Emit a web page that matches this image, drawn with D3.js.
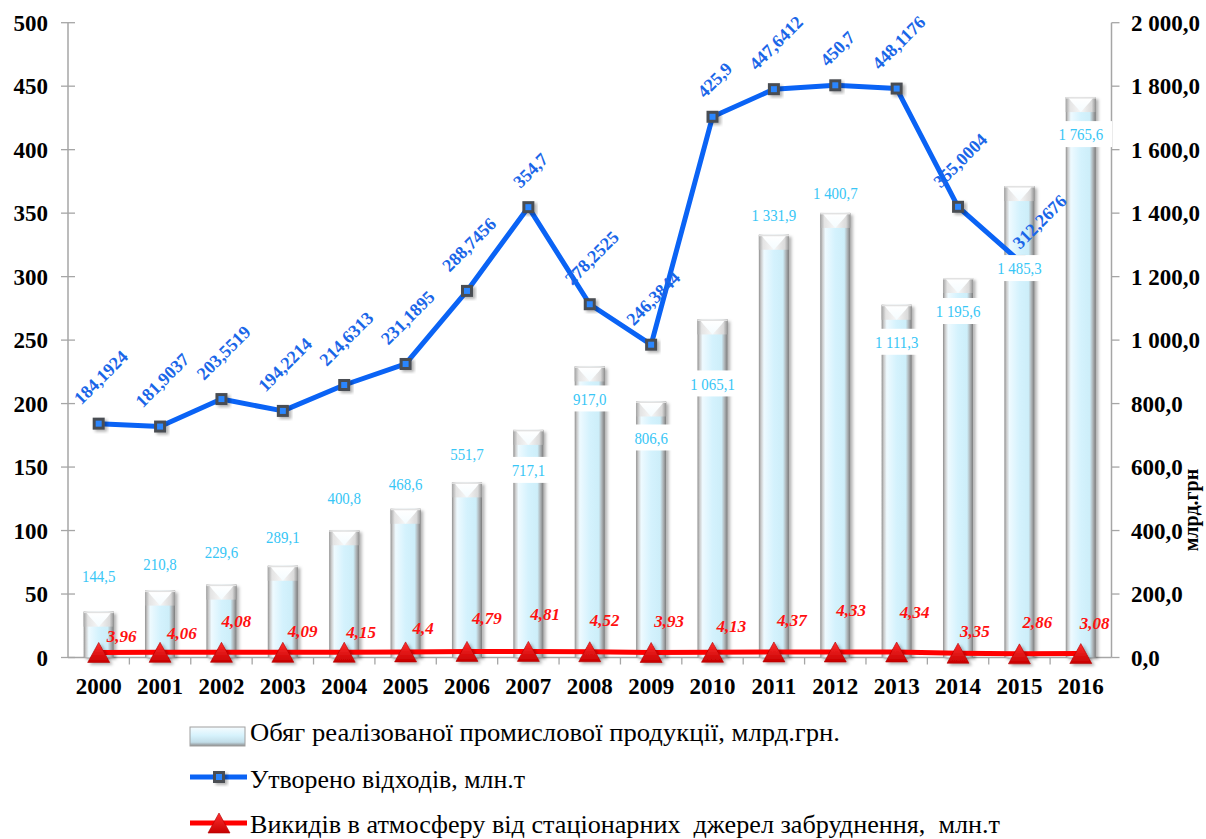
<!DOCTYPE html>
<html>
<head>
<meta charset="utf-8">
<script src="https://cdn.jsdelivr.net/npm/d3@7"></script>
<style>
  body { margin: 0; background: #fff; }
  svg { display: block; }
</style>
</head>
<body>
<svg id="chart" width="1206" height="839" font-family="'Liberation Serif', 'Times New Roman', Times, 'DejaVu Serif', serif"></svg>
<script>
// ---- data ----
const years = ["2000","2001","2002","2003","2004","2005","2006","2007","2008",
               "2009","2010","2011","2012","2013","2014","2015","2016"];
// turnover of sold industrial products, bn UAH (right axis)
const turnover = [144.5, 210.8, 229.6, 289.1, 400.8, 468.6, 551.7, 717.1, 917.0,
                  806.6, 1065.1, 1331.9, 1400.7, 1111.3, 1195.6, 1485.3, 1765.6];
// waste generated, mln t (left axis)
const waste = [184.1924, 181.9037, 203.5519, 194.2214, 214.6313, 231.1895, 288.7456,
               354.7, 278.2525, 246.3844, 425.9, 447.6412, 450.7, 448.1176, 355.0004,
               312.2676, null];
// emissions from stationary sources, mln t (left axis)
const emissions = [3.96, 4.06, 4.08, 4.09, 4.15, 4.4, 4.79, 4.81, 4.52, 3.93, 4.13,
                   4.37, 4.33, 4.34, 3.35, 2.86, 3.08];
const leftTicks = [0, 50, 100, 150, 200, 250, 300, 350, 400, 450, 500];
const rightTicks = [0, 200, 400, 600, 800, 1000, 1200, 1400, 1600, 1800, 2000];
const legendLabels = [
  "Обяг реалізованої промислової продукції, млрд.грн.",
  "Утворено відходів, млн.т",
  "Викидів в атмосферу від стаціонарних  джерел забруднення,  млн.т"
];
const rightAxisTitle = "млрд.грн";

// ---- label placement (pixels) ----
const turnoverLabelShift = [-36, -27, -33, -29, -32, -25, -29, 40, 32, 36, 64, -20, -20, 37, 33, 82, 37];
const emissionLabelDx   = [8, 7, 0, 5, 2, 7, 5, 2, 0, 3, 4, 3, 1, 3, 2, 3, -1];
const emissionLabelRise = [16, 19, 31, 21, 20, 24, 33, 37, 32, 31, 26, 32, 42, 40, 22, 32, 31];
const wasteLabelNudge = years.map((y) => y === "2015" ? [18, 7] : [0, 0]);

// ---- number formatting (Ukrainian style) ----
const uk = d3.formatLocale({ decimal: ",", thousands: "\u00a0", grouping: [3], currency: ["", ""] });
const fmt1 = uk.format(",.1f");
const fmtRaw = (v) => String(v).replace(".", ",");

// ---- layout ----
const X0 = 68, X1 = 1111.5, Y0 = 657.5, Y1 = 22.7;
const svg = d3.select("#chart");
const defs = svg.append("defs");

const x = d3.scaleBand().domain(years).range([X0, X1]).paddingInner(0.51).paddingOuter(0.255);
const band = d3.scaleBand().domain(years).range([X0, X1]);
const yL = d3.scaleLinear().domain([0, 500]).range([Y0, Y1]);
const yR = d3.scaleLinear().domain([0, 2000]).range([Y0, Y1]);
const cx = (d) => band(d) + band.bandwidth() / 2;

// gradients & filters
function hGrad(id, stops) {
  const g = defs.append("linearGradient").attr("id", id).attr("x1", 0).attr("x2", 1).attr("y1", 0).attr("y2", 0);
  stops.forEach(([o, c]) => g.append("stop").attr("offset", o).attr("stop-color", c));
}
function vGrad(id, stops) {
  const g = defs.append("linearGradient").attr("id", id).attr("x1", 0).attr("x2", 0).attr("y1", 0).attr("y2", 1);
  stops.forEach(([o, c]) => g.append("stop").attr("offset", o).attr("stop-color", c));
}
hGrad("barBody", [[0, "#8e8e8e"], [0.07, "#c9c9c9"], [0.17, "#eefaff"], [0.5, "#d4f2fd"], [0.8, "#cdeef9"], [0.9, "#aeb4b7"], [1, "#7a7a7a"]]);
hGrad("barCap", [[0, "#a4a4a4"], [0.14, "#e4e4e4"], [0.5, "#f7f7f7"], [0.86, "#dadada"], [1, "#939393"]]);
vGrad("capV", [[0, "#ffffff"], [1, "#f4fcff"]]);
vGrad("tri", [[0, "#ff3030"], [1, "#c80000"]]);
vGrad("legRect", [[0, "#f6fcff"], [0.45, "#d6f2fc"], [0.8, "#c2dde8"], [1, "#8c8c8c"]]);

const shadow = defs.append("filter").attr("id", "shadow").attr("x", "-30%").attr("y", "-30%").attr("width", "160%").attr("height", "160%");
shadow.append("feDropShadow").attr("dx", 2.5).attr("dy", 2).attr("stdDeviation", 1.8)
  .attr("flood-color", "#000").attr("flood-opacity", 0.3);

// ---- axes ----
const axisColor = "#a6a6a6";
const gAx = svg.append("g");
// left axis
gAx.append("line").attr("x1", X0).attr("x2", X0).attr("y1", Y1).attr("y2", Y0)
  .attr("stroke", axisColor).attr("stroke-width", 1.5);
leftTicks.forEach((t) => {
  gAx.append("line").attr("x1", X0 - 7).attr("x2", X0 + 7).attr("y1", yL(t)).attr("y2", yL(t))
    .attr("stroke", axisColor).attr("stroke-width", 1.3);
  gAx.append("text").attr("x", 48).attr("y", yL(t) + 8).attr("text-anchor", "end")
    .attr("font-size", 23).attr("font-weight", "bold").attr("fill", "#000").text(t);
});
// right axis
gAx.append("line").attr("x1", X1).attr("x2", X1).attr("y1", Y1).attr("y2", Y0)
  .attr("stroke", axisColor).attr("stroke-width", 1.5);
rightTicks.forEach((t) => {
  gAx.append("line").attr("x1", X1).attr("x2", X1 + 8).attr("y1", yR(t)).attr("y2", yR(t))
    .attr("stroke", axisColor).attr("stroke-width", 1.3);
  gAx.append("text").attr("x", 1131).attr("y", yR(t) + 8).attr("text-anchor", "start")
    .attr("font-size", 23).attr("font-weight", "bold").attr("fill", "#000").text(fmt1(t));
});
gAx.append("text").attr("transform", "translate(1198,510) rotate(-90)")
  .attr("text-anchor", "middle").attr("font-size", 20).attr("font-weight", "bold").text(rightAxisTitle);
// x axis
gAx.append("line").attr("x1", X0).attr("x2", X1).attr("y1", Y0).attr("y2", Y0)
  .attr("stroke", axisColor).attr("stroke-width", 1.5);
years.forEach((yr, i) => {
  const bx = band(yr);
  if (i > 0) gAx.append("line").attr("x1", bx).attr("x2", bx).attr("y1", Y0).attr("y2", Y0 + 7)
    .attr("stroke", axisColor).attr("stroke-width", 1.3);
  gAx.append("text").attr("x", cx(yr)).attr("y", 694).attr("text-anchor", "middle")
    .attr("font-size", 23).attr("font-weight", "bold").text(yr);
});

// ---- bars ----
const gBars = svg.append("g");
years.forEach((yr, i) => {
  const bx = x(yr), bw = x.bandwidth(), top = yR(turnover[i]), h = Y0 - top;
  const g = gBars.append("g");
  g.append("rect").attr("x", bx).attr("y", top).attr("width", bw).attr("height", h)
    .attr("fill", "url(#barBody)").attr("filter", "url(#shadow)");
  const capH = Math.min(15, h);
  g.append("rect").attr("x", bx).attr("y", top).attr("width", bw).attr("height", capH)
    .attr("fill", "url(#barCap)");
  // white bevel highlight on the cap
  g.append("path")
    .attr("d", `M${bx + 3},${top + 1} L${bx + bw - 3},${top + 1} L${bx + bw - 6},${top + 5} L${bx + bw / 2},${top + capH} L${bx + 6},${top + 5} Z`)
    .attr("fill", "url(#capV)");
  g.append("rect").attr("x", bx).attr("y", top).attr("width", bw).attr("height", 1.5).attr("fill", "#e2e2e2");
});

// ---- emissions line (red) ----
const lineE = d3.line().x((d, i) => cx(years[i])).y((d) => yL(d));
svg.append("path").datum(emissions).attr("d", lineE).attr("fill", "none")
  .attr("stroke", "#ff0000").attr("stroke-width", 5).attr("stroke-linejoin", "round");
const triPath = (px, py) => `M${px},${py - 10} L${px + 11},${py + 10} L${px - 11},${py + 10} Z`;
emissions.forEach((v, i) => {
  svg.append("path").attr("d", triPath(cx(years[i]), yL(v))).attr("fill", "url(#tri)")
    .attr("stroke", "#b00000").attr("stroke-width", 0.6).attr("filter", "url(#shadow)");
});

// ---- waste line (blue) ----
const blue = "#0a63f5";
const lineW = d3.line().defined((d) => d != null).x((d, i) => cx(years[i])).y((d) => yL(d));
svg.append("path").datum(waste).attr("d", lineW).attr("fill", "none")
  .attr("stroke", blue).attr("stroke-width", 5).attr("stroke-linejoin", "round");
function marker(g, px, py) {
  g.append("rect").attr("x", px - 6).attr("y", py - 6).attr("width", 12).attr("height", 12)
    .attr("fill", "#4a4d52").attr("filter", "url(#shadow)");
  g.append("rect").attr("x", px - 3).attr("y", py - 3).attr("width", 6).attr("height", 6).attr("fill", "#2a86ff");
}
waste.forEach((v, i) => { if (v != null) marker(svg, cx(years[i]), yL(v)); });

// ---- turnover labels ----
const gTL = svg.append("g");
years.forEach((yr, i) => {
  const ly = yR(turnover[i]) + turnoverLabelShift[i];
  const g = gTL.append("g");
  const box = g.append("rect");
  const t = g.append("text").attr("transform", `translate(${cx(yr)},${ly}) scale(0.85,1)`)
    .attr("text-anchor", "middle").attr("dy", "0.35em").attr("font-size", 17.5)
    .attr("fill", "#38c6f6").text(fmt1(turnover[i]));
  const w = t.node().getComputedTextLength() * 0.85 + 18;
  box.attr("x", cx(yr) - w / 2).attr("y", ly - 13).attr("width", w).attr("height", 26).attr("fill", "#fff");
});

// ---- waste labels (rotated) ----
waste.forEach((v, i) => {
  if (v == null) return;
  const t = svg.append("text").attr("text-anchor", "middle").attr("dy", "0.35em")
    .attr("font-size", 18).attr("font-weight", "bold").attr("fill", "#1a66e8").text(fmtRaw(v));
  const L = t.node().getComputedTextLength();
  const px = cx(years[i]) + 2 + wasteLabelNudge[i][0];
  const py = yL(v) - 18 - (L + 13) * 0.3535 + wasteLabelNudge[i][1];
  t.attr("transform", `translate(${px},${py}) rotate(-45)`);
});

// ---- emission labels ----
emissions.forEach((v, i) => {
  svg.append("text").attr("x", cx(years[i]) + emissionLabelDx[i])
    .attr("y", yL(v) - emissionLabelRise[i]).attr("dy", "0.35em")
    .attr("font-size", 17).attr("font-weight", "bold").attr("font-style", "italic")
    .attr("fill", "#ff1010").text(fmtRaw(v));
});

// ---- legend ----
const gL = svg.append("g");
gL.append("rect").attr("x", 190).attr("y", 727).attr("width", 55).attr("height", 19)
  .attr("fill", "url(#legRect)").attr("stroke", "#a0a0a0").attr("stroke-width", 1);
gL.append("line").attr("x1", 190).attr("x2", 247).attr("y1", 777).attr("y2", 777)
  .attr("stroke", blue).attr("stroke-width", 5);
marker(gL, 219, 777);
gL.append("line").attr("x1", 190).attr("x2", 247).attr("y1", 823).attr("y2", 823)
  .attr("stroke", "#ff0000").attr("stroke-width", 5);
gL.append("path").attr("d", triPath(219, 823)).attr("fill", "url(#tri)")
  .attr("stroke", "#b00000").attr("stroke-width", 0.6);
const legY = [741, 788, 833];
const legW = [590, 275, 750];
legendLabels.forEach((s, i) => {
  gL.append("text").attr("x", 250).attr("y", legY[i]).attr("font-size", 26)
    .attr("textLength", legW[i]).attr("lengthAdjust", "spacingAndGlyphs")
    .style("white-space", "pre").attr("fill", "#000").text(s);
});
</script>
</body>
</html>
